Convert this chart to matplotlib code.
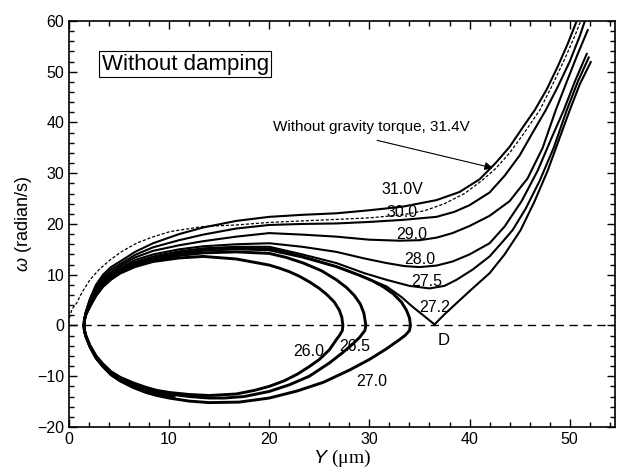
import numpy as np
import matplotlib
matplotlib.use('Agg')
import matplotlib.pyplot as plt

plt.rcParams['font.family'] = ['Liberation Sans', 'DejaVu Sans']
plt.rcParams['mathtext.fontset'] = 'custom'
plt.rcParams['mathtext.it'] = 'Liberation Sans:italic'
plt.rcParams['mathtext.rm'] = 'Liberation Serif'

### DATA ###
# shared x stations near the left turning point (1.5, 0)
ul_x = [1.5, 1.55, 1.7, 2.1, 2.7, 3.4, 4.2, 5.1, 6.6, 8.4, 11.0, 13.4, 16.7, 20.0]     # upper, left to right
ll_x = [12.0, 10.0, 8.8, 7.7, 6.4, 5.1, 4.2, 3.4, 2.7, 2.1, 1.7, 1.55, 1.5]            # lower, right to left
lo_x = [10.5, 10.0, 8.8, 7.7, 6.4, 5.1, 4.2, 3.4, 2.7, 2.1, 1.7, 1.55, 1.5]            # lower part of open curves

# closed orbits 26.0, 26.5, 27.0
c260_ul = [0, 1.1, 2.2, 3.8, 5.9, 7.7, 9.1, 10.3, 11.6, 12.6, 13.3, 13.6, 13.1, 11.9]
c260_rx = [21.0, 22.0, 23.0, 24.0, 25.0, 25.8, 26.5, 27.0, 27.25, 27.35,
           27.3, 27.0, 26.7, 26.0, 25.0, 24.0, 22.8, 21.5, 20.0, 18.5, 16.7, 14.0]
c260_ry = [11.3, 10.6, 9.7, 8.6, 7.3, 6.0, 4.6, 3.0, 1.6, 0,
           -1.0, -2.0, -2.8, -4.8, -6.7, -8.1, -9.6, -10.9, -12.0, -12.8, -13.5, -13.8]
c260_ll = [-13.6, -13.2, -12.8, -12.2, -11.3, -10.2, -9.1, -7.6, -6.0, -4.0, -2.1, -1.0, 0]

c265_ul = [0, 1.1, 2.3, 3.9, 6.1, 7.9, 9.3, 10.5, 11.9, 12.9, 13.8, 14.3, 14.5, 14.2]
c265_rx = [21.7, 23.4, 25.2, 26.7, 27.7, 28.5, 29.1, 29.45, 29.65,
           29.55, 29.0, 28.2, 27.3, 26.0, 24.0, 22.0, 20.0, 17.5, 15.5, 14.0]
c265_ry = [13.4, 12.3, 10.8, 9.0, 7.5, 5.9, 4.2, 2.4, 0,
           -1.0, -2.4, -3.9, -5.4, -7.4, -10.0, -11.7, -13.0, -14.0, -14.3, -14.3]
c265_ll = [-14.0, -13.5, -13.1, -12.5, -11.6, -10.4, -9.3, -7.8, -6.1, -4.0, -2.1, -1.0, 0]

c270_ul = [0, 1.1, 2.3, 4.0, 6.3, 8.2, 9.6, 10.8, 12.2, 13.2, 14.2, 14.8, 15.1, 14.9]
c270_rx = [23.3, 26.7, 29.0, 30.3, 31.4, 32.4, 33.2, 33.7, 34.0, 34.1,
           34.0, 33.6, 33.0, 31.7, 30.0, 28.0, 25.4, 22.8, 20.0, 17.0, 14.0]
c270_ry = [13.5, 11.6, 9.9, 8.8, 7.6, 6.2, 4.6, 3.0, 1.5, 0,
           -1.0, -1.9, -2.8, -4.6, -6.7, -8.8, -11.2, -12.9, -14.3, -15.1, -15.2]
c270_ll = [-14.9, -14.3, -13.8, -13.2, -12.2, -10.9, -9.7, -8.1, -6.4, -4.2, -2.2, -1.1, 0]

# open trajectories 27.2 ... 31.0: lower-left part, turn at (1.5, 0), then up and out
c272_lo = [-14.0, -13.8, -13.3, -12.7, -11.8, -10.6, -9.5, -7.9, -6.2, -4.1, -2.2, -1.0, 0]
c272_ul = [0, 1.2, 2.4, 4.1, 6.4, 8.3, 9.7, 10.9, 12.4, 13.4, 14.4, 15.0, 15.3, 15.2]
c272_rx = [23.3, 26.7, 29.5, 31.7, 33.2, 34.3, 35.5, 36.5, 37.5, 38.7, 40.3, 42.0, 43.5, 45.1, 46.5, 47.8,
           49.0, 50.0, 51.0, 52.1]
c272_ry = [13.6, 11.6, 9.5, 7.7, 5.6, 3.7, 1.8, 0.2, 2.2, 4.4, 7.3, 10.3, 14.0, 18.8, 24.5, 30.5,
           37.0, 42.4, 47.5, 51.9]

c275_lo = [-14.0, -13.8, -13.4, -12.8, -11.9, -10.7, -9.5, -7.9, -6.3, -4.2, -2.2, -1.0, 0]
c275_ul = [0, 1.2, 2.4, 4.2, 6.5, 8.4, 9.8, 11.0, 12.5, 13.6, 14.6, 15.2, 15.5, 15.5]
c275_rx = [23.3, 26.7, 29.5, 31.7, 34.0, 36.0, 37.5, 38.7, 40.3, 42.0, 43.3, 44.3, 45.6, 47.0, 48.4, 49.7,
           50.8, 51.9]
c275_ry = [14.0, 12.3, 10.3, 9.0, 7.8, 7.3, 7.8, 9.0, 11.0, 13.6, 16.5, 18.8, 23.0, 28.5, 35.0, 42.4,
           48.0, 52.8]

c280_lo = [-14.1, -13.9, -13.5, -12.9, -12.0, -10.8, -9.6, -8.0, -6.3, -4.2, -2.2, -1.1, 0]
c280_ul = [0, 1.2, 2.5, 4.4, 6.8, 8.7, 10.1, 11.3, 12.9, 14.0, 15.0, 15.6, 16.0, 16.2]
c280_rx = [23.3, 26.7, 29.5, 31.7, 33.5, 35.0, 36.7, 38.3, 40.0, 42.0, 43.5, 45.2, 46.8, 48.2, 49.4, 50.5,
           51.7]
c280_ry = [15.5, 14.5, 13.2, 12.3, 11.7, 11.5, 11.8, 12.6, 14.0, 16.2, 19.5, 24.5, 30.5, 37.0, 42.4, 48.0,
           53.5]

c290_lo = [-14.2, -14.0, -13.6, -13.0, -12.1, -10.8, -9.6, -8.0, -6.4, -4.2, -2.2, -1.1, 0]
c290_ul = [0, 1.2, 2.6, 4.7, 7.2, 9.1, 10.5, 11.7, 13.4, 14.7, 15.8, 16.6, 17.5, 18.2]
c290_rx = [23.3, 26.7, 30.0, 33.0, 35.0, 36.7, 38.3, 40.0, 42.0, 44.0, 45.8, 47.3, 48.6, 49.7, 50.8, 51.8]
c290_ry = [17.9, 17.5, 16.9, 16.7, 16.8, 17.3, 18.2, 19.6, 21.6, 24.5, 29.0, 35.0, 42.4, 48.0, 53.5, 58.2]

c300_lo = [-14.3, -14.1, -13.7, -13.1, -12.1, -10.9, -9.7, -8.1, -6.4, -4.2, -2.2, -1.1, 0]
c300_ul = [0, 1.3, 2.7, 5.0, 7.6, 9.5, 11.0, 12.1, 13.9, 15.4, 16.8, 17.9, 19.1, 19.8]
c300_rx = [23.3, 26.7, 30.0, 33.3, 36.7, 38.5, 40.0, 42.0, 43.5, 45.0, 46.3, 47.6, 48.8, 50.0, 51.0, 51.6]
c300_ry = [20.0, 20.1, 20.4, 20.8, 21.4, 22.4, 23.7, 26.2, 29.5, 33.5, 38.0, 42.4, 47.0, 52.0, 57.0, 60.5]

c310_lo = [-14.4, -14.2, -13.8, -13.2, -12.2, -10.9, -9.7, -8.1, -6.4, -4.3, -2.2, -1.1, 0]
c310_ul = [0, 1.3, 2.8, 5.3, 8.0, 10.0, 11.5, 12.6, 14.5, 16.2, 18.0, 19.3, 20.6, 21.4]
c310_rx = [23.3, 26.7, 30.0, 33.3, 36.7, 39.0, 41.0, 42.6, 44.0, 45.3, 46.5, 47.7, 48.8, 49.8, 50.7, 50.8]
c310_ry = [21.8, 22.1, 22.7, 23.4, 24.7, 26.3, 28.8, 32.0, 35.2, 39.0, 42.4, 46.5, 51.0, 55.5, 60.0, 61.0]

# without gravity torque, 31.4V (dashed)
ng_x = [0.05, 0.3, 0.77, 1.3, 2.1, 3.0, 4.1, 5.3, 6.75, 8.3, 10.1, 13.4, 16.7, 20.0, 23.3, 26.7, 30.0, 33.3,
        35.5, 37.5, 39.5, 41.2, 42.6, 44.0, 45.3, 47.0, 48.3, 49.5, 50.6, 51.1, 51.2]
ng_y = [1.5, 3.2, 4.4, 6.5, 9.0, 11.0, 12.9, 14.6, 16.2, 17.4, 18.5, 19.5, 19.8, 20.3, 20.6, 20.9, 21.2, 21.8,
        22.6, 24.0, 26.0, 28.5, 30.9, 34.0, 37.5, 42.4, 47.5, 52.5, 57.5, 60.0, 61.0]

curve_labels = ['31.0V', '30.0', '29.0', '28.0', '27.5', '27.2', '26.0', '26.5', '27.0']
label_x = [33.3, 33.3, 34.2, 35.0, 35.7, 36.5, 23.9, 28.5, 30.2]
label_y = [26.7, 22.3, 18.0, 12.9, 8.6, 3.6, -5.1, -4.2, -11.0]

### PLOT ###
fig = plt.figure(figsize=(6.21, 4.76), dpi=100)
ax = fig.add_axes([0.111, 0.103, 0.879, 0.853])

ax.axhline(0, color='black', lw=1.0, ls=(0, (6, 4)), zorder=1)

closed = [(c260_ul, c260_rx, c260_ry, c260_ll),
          (c265_ul, c265_rx, c265_ry, c265_ll),
          (c270_ul, c270_rx, c270_ry, c270_ll)]
for ul, rx, ry, ll in closed:
    xs = ul_x + rx + ll_x
    ys = ul + ry + ll
    ax.plot(xs, ys, color='black', lw=2.1, solid_joinstyle='round', solid_capstyle='round')

opened = [(c272_lo, c272_ul, c272_rx, c272_ry),
          (c275_lo, c275_ul, c275_rx, c275_ry),
          (c280_lo, c280_ul, c280_rx, c280_ry),
          (c290_lo, c290_ul, c290_rx, c290_ry),
          (c300_lo, c300_ul, c300_rx, c300_ry),
          (c310_lo, c310_ul, c310_rx, c310_ry)]
for lo, ul, rx, ry in opened:
    xs = lo_x + ul_x[1:] + rx
    ys = lo + ul[1:] + ry
    ax.plot(xs, ys, color='black', lw=1.5, solid_joinstyle='round')

ax.plot(ng_x, ng_y, color='black', lw=0.9, ls=(0, (2.5, 1.5)))

for t, lx, ly in zip(curve_labels, label_x, label_y):
    ax.text(lx, ly, t, fontsize=11.5, ha='center', va='center')
ax.text(37.4, -2.9, 'D', fontsize=12, ha='center', va='center')

ax.annotate('', xy=(42.6, 30.9), xytext=(30.5, 36.6),
            arrowprops=dict(arrowstyle='-|>', color='black', lw=0.8, mutation_scale=12))
ax.text(30.2, 39.1, 'Without gravity torque, 31.4V', fontsize=11, ha='center', va='center')

ax.text(11.6, 51.5, 'Without damping', fontsize=16, ha='center', va='center',
        bbox=dict(boxstyle='square,pad=0.12', fc='white', ec='black', lw=0.8))

ax.set_xlim(0, 54.5)
ax.set_ylim(-20, 60)
ax.set_xticks(np.arange(0, 51, 10))
ax.set_xticks(np.arange(0, 55, 2), minor=True)
ax.set_yticks(np.arange(-20, 61, 10))
ax.set_yticks(np.arange(-20, 61, 2), minor=True)
ax.tick_params(which='both', direction='in', top=True, right=True, labelsize=11.5, width=1.0)
ax.tick_params(which='major', length=6)
ax.tick_params(which='minor', length=3.5)
for s in ax.spines.values():
    s.set_linewidth(1.2)

ax.set_xlabel(r'$Y$ $(\mathrm{\mu m})$', fontsize=14, labelpad=1)
ax.set_ylabel(r'$\omega$ (radian/s)', fontsize=13, labelpad=2)

plt.savefig('out.png', dpi=100)
